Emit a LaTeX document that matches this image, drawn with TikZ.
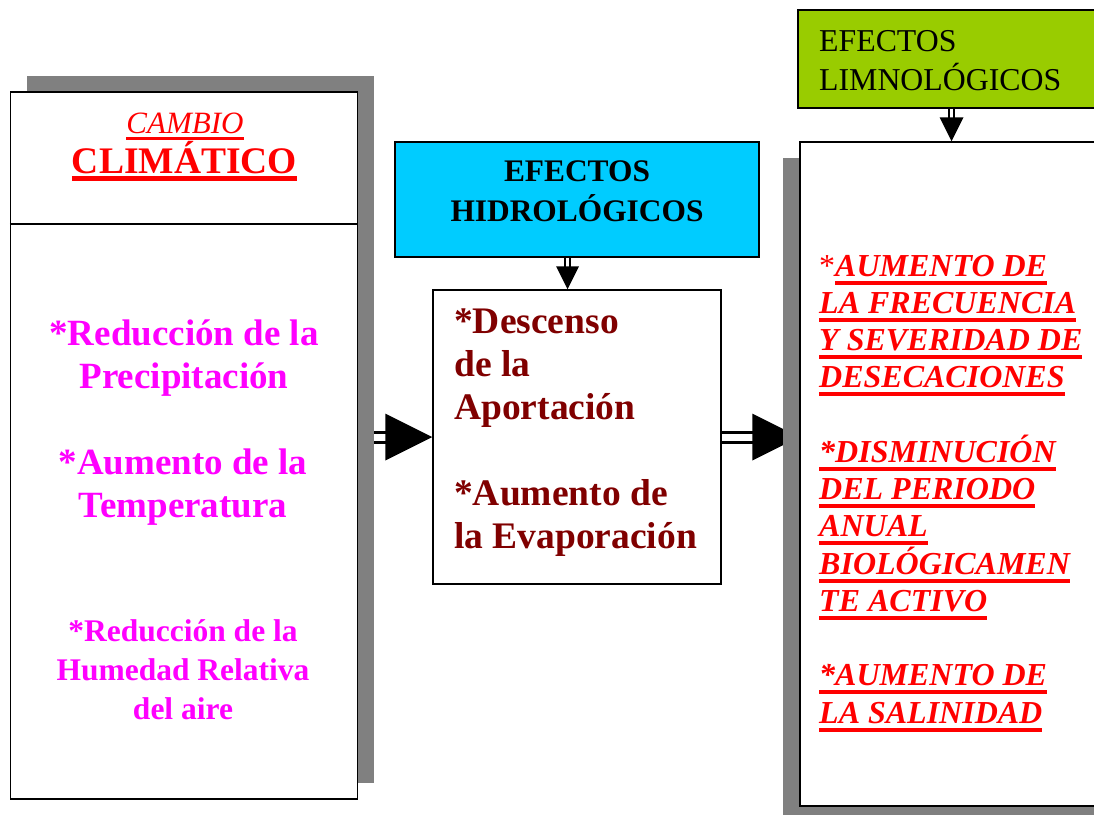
\documentclass[tikz,border=0pt]{standalone}
\usepackage{fontspec}
\setmainfont{Liberation Serif}
\usetikzlibrary{shadows,backgrounds}
\definecolor{cyanbox}{HTML}{00CCFF}
\definecolor{greenbox}{HTML}{99CC00}
\definecolor{shadowgray}{HTML}{808080}
\definecolor{magentatext}{HTML}{FF00FF}
\definecolor{redtext}{HTML}{FF0000}
\definecolor{darkredtext}{HTML}{800000}
\newcommand\ulbox[3]{\setbox0\hbox{#3}\rlap{\vrule width\wd0 height -#1 depth #2}\box0}
\newcommand\ulr[1]{\ulbox{4.7pt}{8.7pt}{#1}}
\begin{document}
\begin{tikzpicture}[x=1pt,y=-1pt,
  box/.style={draw=black, line width=1.5pt, inner sep=0pt},
  shadowupright/.style={drop shadow={shadow xshift=16.5pt,shadow yshift=16pt,fill=shadowgray,opacity=1}},
  shadowdownleft/.style={drop shadow={shadow xshift=-17pt,shadow yshift=-16pt,fill=shadowgray,opacity=1}},
  hshaft/.style={draw=black, line width=3pt, double=white, double distance=7pt},
  vshaft/.style={draw=black, line width=2pt, double=white, double distance=2.5pt},
  tipfill/.style={fill=black}]
\useasboundingbox (0,0) rectangle (1094,814);
\clip (0,0) rectangle (1094,814);

% boxes
\node[box, fill=white, shadowupright, minimum width=347pt, minimum height=707pt] (clim) at (184,445.5) {};
\draw[line width=1.5pt] (clim.west |- 0,224) -- (clim.east |- 0,224);
\node[box, fill=cyanbox, minimum width=364pt, minimum height=115pt] (hidro) at (577,199.5) {};
\node[box, fill=white, minimum width=288pt, minimum height=294pt] (aport) at (577,437) {};
\node[box, fill=greenbox, minimum width=322pt, minimum height=98pt] (limno) at (959,59) {};
\node[box, fill=white, shadowdownleft, minimum width=320pt, minimum height=664pt] (efectos) at (960,474) {};

% texts (base anchor = baseline of the last line)
\node[anchor=base, inner sep=0pt, text=redtext, font=\fontsize{31}{37}\selectfont\itshape] (cambio) at (185,133.5) {\ulbox{3pt}{6pt}{CAMBIO}};
\node[anchor=base, inner sep=0pt, text=redtext, font=\fontsize{37.5}{43}\selectfont\bfseries] (climtxt) at (184.5,173) {\ulbox{3pt}{8pt}{CLIMÁTICO}};
\node[anchor=base, align=center, inner sep=0pt, text=magentatext, font=\fontsize{37}{43}\selectfont\bfseries] (prec) at (184,388) {*Reducción de la\\Precipitación};
\node[anchor=base, align=center, inner sep=0pt, text=magentatext, font=\fontsize{37}{43}\selectfont\bfseries] (temp) at (183,517) {*Aumento de la\\Temperatura};
\node[anchor=base, align=center, inner sep=0pt, text=magentatext, font=\fontsize{31.5}{39}\selectfont\bfseries] (hum) at (183,719) {*Reducción de la\\Humedad Relativa\\del aire};

\node[anchor=base, align=center, inner sep=0pt, font=\fontsize{31.4}{40}\selectfont\bfseries] (hidrotxt) at (577,221.7) {EFECTOS\\HIDROLÓGICOS};
\node[anchor=base west, align=left, inner sep=0pt, text=darkredtext, font=\fontsize{37.5}{43}\selectfont\bfseries] (aporttxt) at (454,548) {*Descenso\\de la\\Aportación\\[43pt]*Aumento de\\la Evaporación};

\node[anchor=base west, align=left, inner sep=0pt, font=\fontsize{31.8}{39}\selectfont] (limnotxt) at (819,90.7) {EFECTOS\\LIMNOLÓGICOS};
\node[anchor=base west, align=left, inner sep=0pt, text=redtext, font=\fontsize{32}{37.25}\selectfont\bfseries\itshape] (efectostxt) at (819,723) {%
{\normalfont *}\ulr{AUMENTO DE}\\
\ulr{LA FRECUENCIA}\\
\ulr{Y SEVERIDAD DE}\\
\ulr{DESECACIONES}\\[37.25pt]
\ulr{*DISMINUCIÓN}\\
\ulr{DEL PERIODO}\\
\ulr{ANUAL}\\
\ulr{BIOLÓGICAMEN}\\
\ulr{TE ACTIVO}\\[37.25pt]
\ulr{*AUMENTO DE}\\
\ulr{LA SALINIDAD}};

% connectors
\begin{scope}[on background layer]
  \coordinate (h1s) at (clim.east |- aport.west);
  \draw[hshaft] (h1s) -- ([xshift=-46pt]aport.west);
  \fill[tipfill] (aport.west) -- ++(-47,-23.5) -- ++(0,47) -- cycle;
  \coordinate (h2e) at (efectos.west |- aport.east);
  \draw[hshaft] (aport.east) -- ([xshift=-46pt]h2e);
  \fill[tipfill] (h2e) -- ++(-47,-23.5) -- ++(0,47) -- cycle;
\end{scope}
\coordinate (d1s) at ([xshift=-9.5pt]hidro.south);
\coordinate (d1e) at ([xshift=-9.5pt]aport.north);
\draw[vshaft] (d1s) -- ([yshift=22pt]d1e);
\fill[tipfill] (d1e) -- ++(-11.5,-23) -- ++(23,0) -- cycle;
\coordinate (d2s) at ([xshift=-7.5pt]limno.south);
\coordinate (d2e) at ([xshift=-8.5pt]efectos.north);
\draw[vshaft] (d2s) -- ([yshift=23pt]d2e);
\fill[tipfill] (d2e) -- ++(-12,-24) -- ++(24,0) -- cycle;
\end{tikzpicture}
\end{document}
